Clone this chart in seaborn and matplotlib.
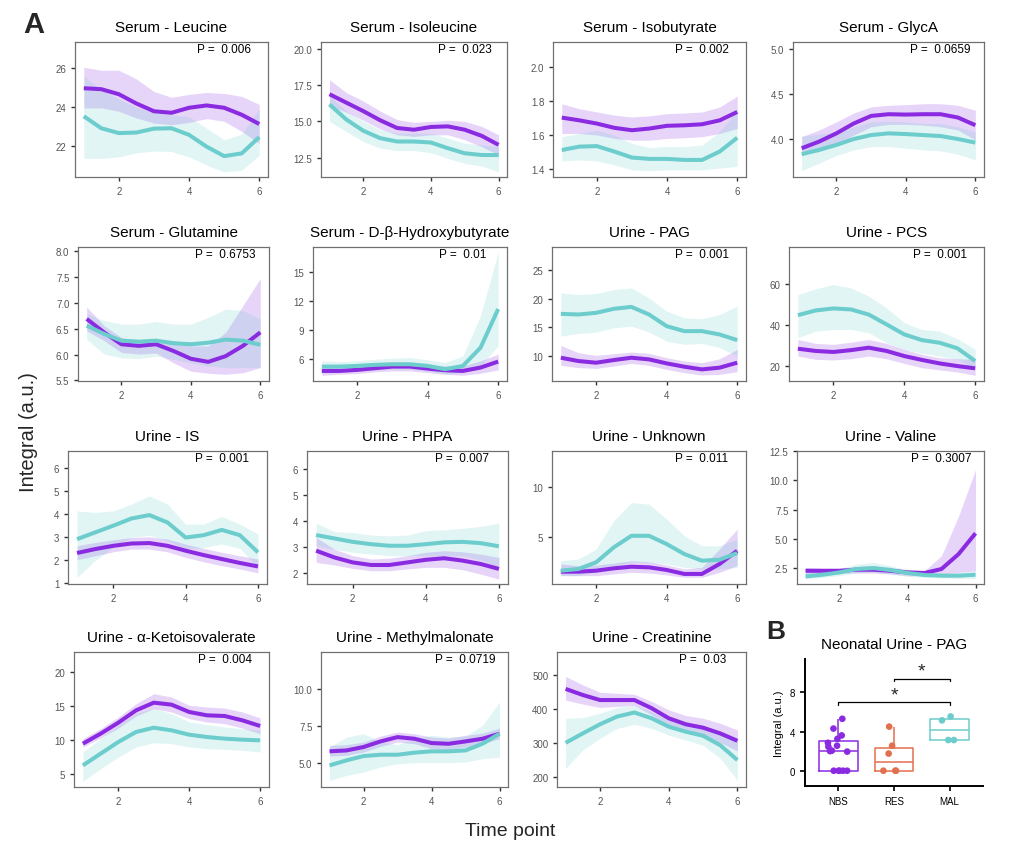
import numpy as np
import pandas as pd
import matplotlib
matplotlib.use("Agg")
import matplotlib.pyplot as plt
import matplotlib.transforms as mtransforms
import seaborn as sns

# ---------------- DATA ----------------
time = [1.0, 1.5, 2.0, 2.5, 3.0, 3.5, 4.0, 4.5, 5.0, 5.5, 6.0]

titles = ["Serum - Leucine", "Serum - Isoleucine", "Serum - Isobutyrate", "Serum - GlycA",
          "Serum - Glutamine", "Serum - D-\u03b2-Hydroxybutyrate", "Urine - PAG", "Urine - PCS",
          "Urine - IS", "Urine - PHPA", "Urine - Unknown", "Urine - Valine",
          "Urine - \u03b1-Ketoisovalerate", "Urine - Methylmalonate", "Urine - Creatinine"]
pvals = ["0.006", "0.023", "0.002", "0.0659", "0.6753", "0.01", "0.001", "0.001",
         "0.001", "0.007", "0.011", "0.3007", "0.004", "0.0719", "0.03"]

# each: [fit, lower, upper]
leucine_nbs = [[24.97, 24.92, 24.66, 24.18, 23.78, 23.70, 23.96, 24.08, 23.96, 23.60, 23.12],
               [23.95, 23.95, 23.78, 23.43, 23.17, 23.08, 23.20, 23.40, 23.26, 22.74, 22.12],
               [26.05, 25.90, 25.90, 25.45, 24.80, 24.50, 24.65, 24.75, 24.70, 24.55, 24.13]]
leucine_mal = [[23.52, 22.90, 22.65, 22.68, 22.88, 22.90, 22.56, 21.95, 21.46, 21.60, 22.44],
               [21.34, 21.34, 21.42, 21.63, 21.72, 21.70, 21.42, 21.00, 20.64, 20.73, 21.50],
               [25.60, 24.90, 24.40, 24.00, 23.70, 23.60, 23.50, 22.90, 22.30, 22.60, 23.90]]
isoleucine_nbs = [[16.87, 16.29, 15.71, 15.08, 14.55, 14.43, 14.62, 14.66, 14.43, 14.01, 13.39],
                  [16.06, 15.64, 15.08, 14.48, 14.08, 13.97, 14.08, 14.08, 13.74, 13.27, 12.69],
                  [17.87, 16.98, 16.40, 15.71, 15.13, 14.94, 15.00, 15.08, 15.00, 14.66, 14.08]]
isoleucine_mal = [[16.17, 15.13, 14.36, 13.85, 13.62, 13.62, 13.55, 13.16, 12.81, 12.69, 12.69],
                  [15.00, 14.30, 13.62, 13.16, 13.00, 13.00, 12.85, 12.46, 12.11, 11.93, 11.53],
                  [16.75, 15.71, 15.01, 14.43, 14.20, 14.20, 14.20, 13.85, 13.50, 13.39, 13.27]]
isobutyrate_nbs = [[1.702, 1.686, 1.667, 1.642, 1.628, 1.638, 1.654, 1.657, 1.663, 1.686, 1.735],
                   [1.609, 1.609, 1.600, 1.580, 1.570, 1.570, 1.580, 1.584, 1.590, 1.609, 1.638],
                   [1.783, 1.754, 1.735, 1.716, 1.706, 1.712, 1.725, 1.729, 1.735, 1.764, 1.828]]
isobutyrate_mal = [[1.512, 1.532, 1.535, 1.503, 1.468, 1.460, 1.460, 1.454, 1.454, 1.503, 1.584],
                   [1.448, 1.454, 1.448, 1.425, 1.396, 1.390, 1.396, 1.396, 1.396, 1.406, 1.416],
                   [1.590, 1.609, 1.628, 1.600, 1.551, 1.526, 1.532, 1.532, 1.541, 1.619, 1.745]]
glyca_nbs = [[3.897, 3.971, 4.063, 4.173, 4.257, 4.276, 4.272, 4.276, 4.276, 4.239, 4.154],
             [3.824, 3.860, 3.934, 4.044, 4.136, 4.162, 4.162, 4.154, 4.136, 4.100, 3.989],
             [4.026, 4.100, 4.190, 4.290, 4.357, 4.375, 4.382, 4.393, 4.393, 4.375, 4.320]]
glyca_mal = [[3.831, 3.879, 3.934, 4.000, 4.044, 4.063, 4.055, 4.044, 4.033, 4.000, 3.960],
             [3.647, 3.732, 3.816, 3.879, 3.915, 3.915, 3.897, 3.879, 3.868, 3.831, 3.768],
             [4.037, 4.051, 4.080, 4.136, 4.190, 4.198, 4.190, 4.173, 4.173, 4.136, 4.080]]
glutamine_nbs = [[6.69, 6.43, 6.20, 6.17, 6.20, 6.07, 5.92, 5.86, 5.97, 6.17, 6.43],
                 [6.46, 6.27, 6.04, 6.01, 6.03, 5.84, 5.68, 5.64, 5.62, 5.65, 5.75],
                 [6.92, 6.56, 6.33, 6.27, 6.30, 6.27, 6.17, 6.17, 6.43, 6.95, 7.47]]
glutamine_mal = [[6.56, 6.40, 6.27, 6.25, 6.27, 6.22, 6.20, 6.23, 6.29, 6.27, 6.19],
                 [6.30, 6.01, 5.94, 5.92, 5.97, 5.91, 5.84, 5.78, 5.75, 5.75, 5.75],
                 [6.79, 6.66, 6.59, 6.59, 6.64, 6.59, 6.59, 6.72, 6.88, 6.85, 6.69]]
hydroxybutyrate_nbs = [[4.79, 4.79, 4.90, 5.07, 5.24, 5.24, 5.03, 4.86, 4.79, 5.14, 5.76],
                       [4.34, 4.45, 4.52, 4.69, 4.79, 4.79, 4.62, 4.45, 4.34, 4.55, 4.90],
                       [5.31, 5.24, 5.31, 5.48, 5.66, 5.66, 5.42, 5.31, 5.31, 5.83, 6.52]]
hydroxybutyrate_mal = [[5.24, 5.24, 5.31, 5.42, 5.48, 5.48, 5.31, 4.97, 5.31, 7.20, 11.19],
                       [4.55, 4.69, 4.79, 4.90, 4.97, 4.97, 4.79, 4.45, 4.62, 5.31, 7.39],
                       [5.83, 5.76, 5.83, 6.00, 6.11, 6.18, 5.93, 5.66, 6.35, 10.50, 17.08]]
pag_nbs = [[9.71, 9.13, 8.84, 9.30, 9.71, 9.42, 8.72, 8.14, 7.67, 7.97, 8.84],
           [8.37, 7.97, 7.85, 8.26, 8.72, 8.37, 7.67, 7.09, 6.69, 6.80, 7.27],
           [11.86, 10.58, 10.12, 10.41, 10.70, 10.47, 9.71, 9.13, 8.84, 9.53, 11.16]]
pag_mal = [[17.38, 17.27, 17.56, 18.26, 18.60, 17.27, 15.23, 14.36, 14.36, 13.78, 12.79],
           [13.49, 13.95, 14.19, 14.94, 15.23, 14.19, 12.62, 12.03, 12.21, 11.50, 10.00],
           [21.05, 20.76, 20.93, 21.63, 21.92, 20.17, 17.85, 16.69, 16.51, 17.27, 18.72]]
pcs_nbs = [[28.3, 27.2, 26.7, 27.6, 28.8, 27.2, 24.7, 22.8, 21.1, 19.8, 18.7],
           [24.7, 23.1, 22.8, 23.4, 24.7, 23.4, 21.1, 19.0, 17.9, 16.9, 15.3],
           [32.8, 30.9, 30.4, 31.5, 32.8, 30.9, 28.0, 25.5, 23.9, 23.4, 23.1]]
pcs_mal = [[44.7, 47.0, 48.0, 47.5, 45.0, 40.2, 35.3, 32.5, 31.2, 28.5, 22.3],
           [33.7, 36.9, 37.7, 37.7, 36.1, 31.2, 28.0, 26.0, 24.7, 23.1, 18.2],
           [54.8, 57.6, 59.7, 58.0, 54.0, 48.3, 41.0, 37.7, 36.9, 33.2, 28.0]]
is_nbs = [[2.31, 2.48, 2.62, 2.72, 2.74, 2.62, 2.41, 2.22, 2.05, 1.88, 1.73],
          [2.02, 2.19, 2.36, 2.48, 2.48, 2.36, 2.12, 1.93, 1.76, 1.62, 1.45],
          [2.62, 2.77, 2.88, 2.98, 3.01, 2.91, 2.70, 2.51, 2.34, 2.19, 2.05]]
is_mal = [[2.91, 3.20, 3.49, 3.80, 3.95, 3.63, 2.98, 3.08, 3.31, 3.08, 2.34],
          [1.26, 1.98, 2.55, 2.98, 3.08, 2.84, 2.48, 2.55, 2.70, 2.51, 1.69],
          [4.13, 4.06, 4.13, 4.42, 4.78, 4.42, 3.56, 3.56, 3.89, 3.56, 3.13]]
phpa_nbs = [[2.87, 2.61, 2.42, 2.32, 2.32, 2.42, 2.52, 2.58, 2.49, 2.36, 2.17],
            [2.42, 2.32, 2.19, 2.10, 2.10, 2.17, 2.23, 2.23, 2.14, 1.97, 1.78],
            [3.38, 2.93, 2.68, 2.55, 2.58, 2.68, 2.81, 2.87, 2.83, 2.74, 2.61]]
phpa_mal = [[3.47, 3.34, 3.21, 3.12, 3.06, 3.06, 3.12, 3.19, 3.21, 3.16, 3.04],
            [3.06, 2.93, 2.81, 2.74, 2.68, 2.68, 2.68, 2.68, 2.68, 2.52, 2.23],
            [3.93, 3.60, 3.57, 3.47, 3.44, 3.47, 3.64, 3.67, 3.73, 3.80, 3.93]]
unknown_nbs = [[1.63, 1.63, 1.73, 1.96, 2.12, 2.06, 1.80, 1.41, 1.41, 2.39, 3.69],
               [1.24, 1.24, 1.24, 1.41, 1.57, 1.50, 1.31, 1.08, 1.08, 1.57, 2.22],
               [2.39, 2.22, 2.29, 2.48, 2.71, 2.61, 2.29, 1.90, 2.06, 3.86, 5.82]]
unknown_mal = [[1.73, 1.90, 2.55, 4.02, 5.16, 5.16, 4.35, 3.37, 2.71, 2.81, 3.46],
               [1.24, 1.24, 1.57, 2.06, 2.55, 2.55, 2.39, 2.06, 1.90, 1.90, 2.06],
               [2.71, 2.88, 3.86, 6.63, 8.43, 8.27, 6.80, 5.16, 4.18, 4.18, 4.84]]
valine_nbs = [[2.27, 2.27, 2.27, 2.36, 2.36, 2.27, 2.13, 2.08, 2.42, 3.69, 5.47],
              [1.99, 1.99, 2.05, 2.08, 2.08, 1.99, 1.85, 1.85, 1.99, 2.13, 2.27],
              [2.56, 2.47, 2.47, 2.64, 2.70, 2.56, 2.36, 2.27, 3.55, 6.93, 10.89]]
valine_mal = [[1.79, 1.93, 2.13, 2.42, 2.50, 2.33, 2.08, 1.91, 1.85, 1.85, 1.93],
              [1.57, 1.71, 1.85, 2.08, 2.13, 1.99, 1.79, 1.71, 1.65, 1.62, 1.62],
              [2.13, 2.27, 2.47, 2.84, 2.98, 2.70, 2.36, 2.13, 2.08, 2.13, 2.27]]
kiv_nbs = [[9.46, 10.93, 12.55, 14.36, 15.49, 15.20, 14.12, 13.63, 13.53, 12.89, 12.06],
           [8.97, 10.29, 11.76, 13.53, 14.61, 14.12, 13.14, 12.65, 12.40, 11.76, 10.93],
           [10.20, 11.67, 13.38, 15.34, 16.81, 16.32, 15.10, 14.85, 14.70, 14.12, 13.24]]
kiv_mal = [[6.27, 7.99, 9.71, 11.18, 11.81, 11.42, 10.78, 10.44, 10.20, 10.05, 9.95],
           [3.92, 5.78, 7.50, 8.97, 9.61, 9.46, 8.97, 8.73, 8.63, 8.48, 8.24],
           [8.24, 10.20, 12.16, 13.87, 14.71, 13.87, 12.65, 12.25, 11.91, 11.67, 11.42]]
mma_nbs = [[5.77, 5.83, 6.06, 6.44, 6.73, 6.62, 6.33, 6.28, 6.44, 6.62, 6.96],
           [5.45, 5.50, 5.72, 6.10, 6.40, 6.28, 5.95, 5.90, 6.06, 6.28, 6.62],
           [6.17, 6.22, 6.40, 6.80, 7.07, 6.96, 6.73, 6.67, 6.85, 7.00, 7.34]]
mma_mal = [[4.82, 5.16, 5.45, 5.54, 5.54, 5.68, 5.77, 5.77, 5.83, 6.28, 6.96],
           [3.81, 4.14, 4.37, 4.71, 4.93, 5.00, 5.00, 5.00, 5.05, 5.27, 5.38],
           [6.06, 6.73, 6.96, 6.40, 6.22, 6.62, 6.85, 6.73, 6.80, 7.52, 9.10]]
creatinine_nbs = [[460, 442, 427, 427, 427, 403, 373, 355, 345, 328, 306],
                  [427, 415, 405, 408, 411, 383, 351, 333, 321, 301, 276],
                  [497, 472, 450, 447, 444, 423, 398, 381, 373, 358, 338]]
creatinine_mal = [[300, 328, 355, 378, 390, 373, 348, 333, 321, 293, 249],
                  [224, 279, 313, 343, 355, 343, 323, 308, 293, 254, 189],
                  [373, 375, 388, 405, 411, 393, 368, 355, 348, 328, 303]]

nbs_series = [leucine_nbs, isoleucine_nbs, isobutyrate_nbs, glyca_nbs, glutamine_nbs,
              hydroxybutyrate_nbs, pag_nbs, pcs_nbs, is_nbs, phpa_nbs, unknown_nbs,
              valine_nbs, kiv_nbs, mma_nbs, creatinine_nbs]
mal_series = [leucine_mal, isoleucine_mal, isobutyrate_mal, glyca_mal, glutamine_mal,
              hydroxybutyrate_mal, pag_mal, pcs_mal, is_mal, phpa_mal, unknown_mal,
              valine_mal, kiv_mal, mma_mal, creatinine_mal]

# Panel B
b_groups = ["NBS", "RES", "MAL"]
b_nbs = [0, 0, 0, 0, 0, 1.95, 2.0, 2.05, 2.45, 2.55, 2.85, 3.25, 3.6, 4.3, 5.3]
b_res = [0, 0, 0, 1.75, 2.55, 4.5]
b_mal = [3.13, 3.13, 5.14, 5.54]

# ---------------- LAYOUT / STYLE ----------------
sns.set_theme(style="white")
plt.rcParams["font.family"] = ["Liberation Sans", "DejaVu Sans"]

PURPLE = "#8A2BE2"
TEAL = "#6DCDCD"
CORAL = "#E2704F"

W, H = 1029, 854
fig = plt.figure(figsize=(W / 100, H / 100), dpi=100)


def add_ax(l, r, t, b):
    return fig.add_axes([l / W, 1 - b / H, (r - l) / W, (b - t) / H])


boxes = [(75, 268, 43, 178), (321, 507, 43, 178), (553, 746, 43, 178), (793, 984, 43, 178),
         (78, 269, 248, 382), (313, 507, 248, 382), (552, 746, 248, 382), (789, 984, 248, 382),
         (68, 267, 452, 585), (307, 508, 452, 585), (552, 746, 452, 585), (797, 984, 452, 585),
         (74, 269, 653, 788), (321, 508, 653, 788), (557, 746, 653, 788)]
ylims = [(20.38, 27.36), (11.18, 20.46), (1.354, 2.145), (3.577, 5.08),
         (5.49, 8.08), (3.75, 17.6), (5.64, 29.07), (12.5, 78.05),
         (0.97, 6.72), (1.59, 6.70), (0.42, 13.5), (1.14, 12.44),
         (3.09, 22.94), (3.36, 12.48), (169, 569.5)]
yticks = [[22, 24, 26], [12.5, 15, 17.5, 20], [1.4, 1.6, 1.8, 2.0], [4.0, 4.5, 5.0],
          [5.5, 6.0, 6.5, 7.0, 7.5, 8.0], [6, 9, 12, 15], [10, 15, 20, 25], [20, 40, 60],
          [1, 2, 3, 4, 5, 6], [2, 3, 4, 5, 6], [5, 10], [2.5, 5.0, 7.5, 10.0, 12.5],
          [5, 10, 15, 20], [5.0, 7.5, 10.0], [200, 300, 400, 500]]

for i in range(15):
    ax = add_ax(*boxes[i])
    nbs = nbs_series[i]
    mal = mal_series[i]
    ax.fill_between(time, nbs[1], nbs[2], color=PURPLE, alpha=0.2, linewidth=0)
    ax.fill_between(time, mal[1], mal[2], color=TEAL, alpha=0.2, linewidth=0)
    df = pd.DataFrame({
        "time": time * 2,
        "value": nbs[0] + mal[0],
        "group": ["NBS"] * len(time) + ["MAL"] * len(time),
    })
    sns.lineplot(data=df, x="time", y="value", hue="group",
                 palette={"NBS": PURPLE, "MAL": TEAL}, linewidth=2.9,
                 legend=False, ax=ax, errorbar=None, sort=False)
    for ln in ax.get_lines():
        ln.set_solid_capstyle("butt")
        ln.set_solid_joinstyle("round")
    ax.set_xlim(0.75, 6.25)
    ax.set_ylim(*ylims[i])
    ax.set_xticks([2, 4, 6])
    ax.set_yticks(yticks[i])
    dec = any(abs(t - round(t)) > 1e-9 for t in yticks[i]) or yticks[i] == [4.0, 4.5, 5.0]
    if dec:
        ax.set_yticklabels([f"{t:.1f}" for t in yticks[i]])
    else:
        ax.set_yticklabels([f"{int(t)}" for t in yticks[i]])
    ax.set_xticklabels(["2", "4", "6"])
    ax.set_xlabel("")
    ax.set_ylabel("")
    ax.tick_params(axis="both", which="both", direction="out", length=3.2, width=1.0,
                   color="#333333", labelcolor="#555555", labelsize=7, pad=3,
                   left=True, bottom=True)
    for sp in ax.spines.values():
        sp.set_color("#707070")
        sp.set_linewidth(0.9)
    ax.set_title(titles[i], fontsize=11, color="black", pad=8)
    trans = mtransforms.blended_transform_factory(ax.transData, ax.transAxes)
    ax.text(5.0, 0.945, "P =  " + pvals[i], transform=trans, ha="center", va="center",
            fontsize=8.5, color="black")

# ---------------- Panel B ----------------
axb = add_ax(805, 983, 660, 787)
dfb = pd.DataFrame({
    "group": ["NBS"] * len(b_nbs) + ["RES"] * len(b_res) + ["MAL"] * len(b_mal),
    "value": b_nbs + b_res + b_mal,
})
pal_b = {"NBS": PURPLE, "RES": CORAL, "MAL": TEAL}
sns.boxplot(data=dfb, x="group", y="value", hue="group", order=b_groups, palette=pal_b,
            fill=False, width=0.7, linewidth=1.1, showcaps=False, showfliers=False,
            legend=False, ax=axb)
np.random.seed(3)
sns.stripplot(data=dfb, x="group", y="value", hue="group", order=b_groups, palette=pal_b,
              jitter=0.2, size=4.8, legend=False, ax=axb)
axb.set_xlim(-0.6, 2.6)
axb.set_ylim(-1.56, 11.4)
axb.set_yticks([0, 4, 8])
axb.set_yticklabels(["0", "4", "8"])
axb.set_xlabel("")
axb.set_ylabel("Integral (a.u.)", fontsize=8, color="black", labelpad=4)
axb.tick_params(axis="both", direction="out", length=3.5, width=1.2, color="black",
                labelcolor="black", labelsize=7, left=True, bottom=True)
for s in ["top", "right"]:
    axb.spines[s].set_visible(False)
for s in ["left", "bottom"]:
    axb.spines[s].set_color("black")
    axb.spines[s].set_linewidth(1.4)
axb.set_title("Neonatal Urine - PAG", fontsize=11, color="black", pad=8)
# significance brackets
axb.plot([0, 0, 2, 2], [6.7, 6.97, 6.97, 6.7], color="black", lw=0.9)
axb.text(1, 7.75, "*", ha="center", va="center", fontsize=14)
axb.plot([1, 1, 2, 2], [9.13, 9.4, 9.4, 9.13], color="black", lw=0.9)
axb.text(1.5, 10.2, "*", ha="center", va="center", fontsize=14)

# ---------------- Figure labels ----------------
fig.text(34 / W, 1 - 25 / H, "A", fontsize=21, fontweight="bold", ha="center", va="center")
fig.text(776 / W, 1 - 632 / H, "B", fontsize=19, fontweight="bold", ha="center", va="center")
fig.text(29 / W, 1 - 432 / H, "Integral (a.u.)", fontsize=14.5, rotation=90,
         ha="center", va="center")
fig.text(510 / W, 1 - 832 / H, "Time point", fontsize=14, ha="center", va="center")

fig.savefig("out.png", dpi=100)
